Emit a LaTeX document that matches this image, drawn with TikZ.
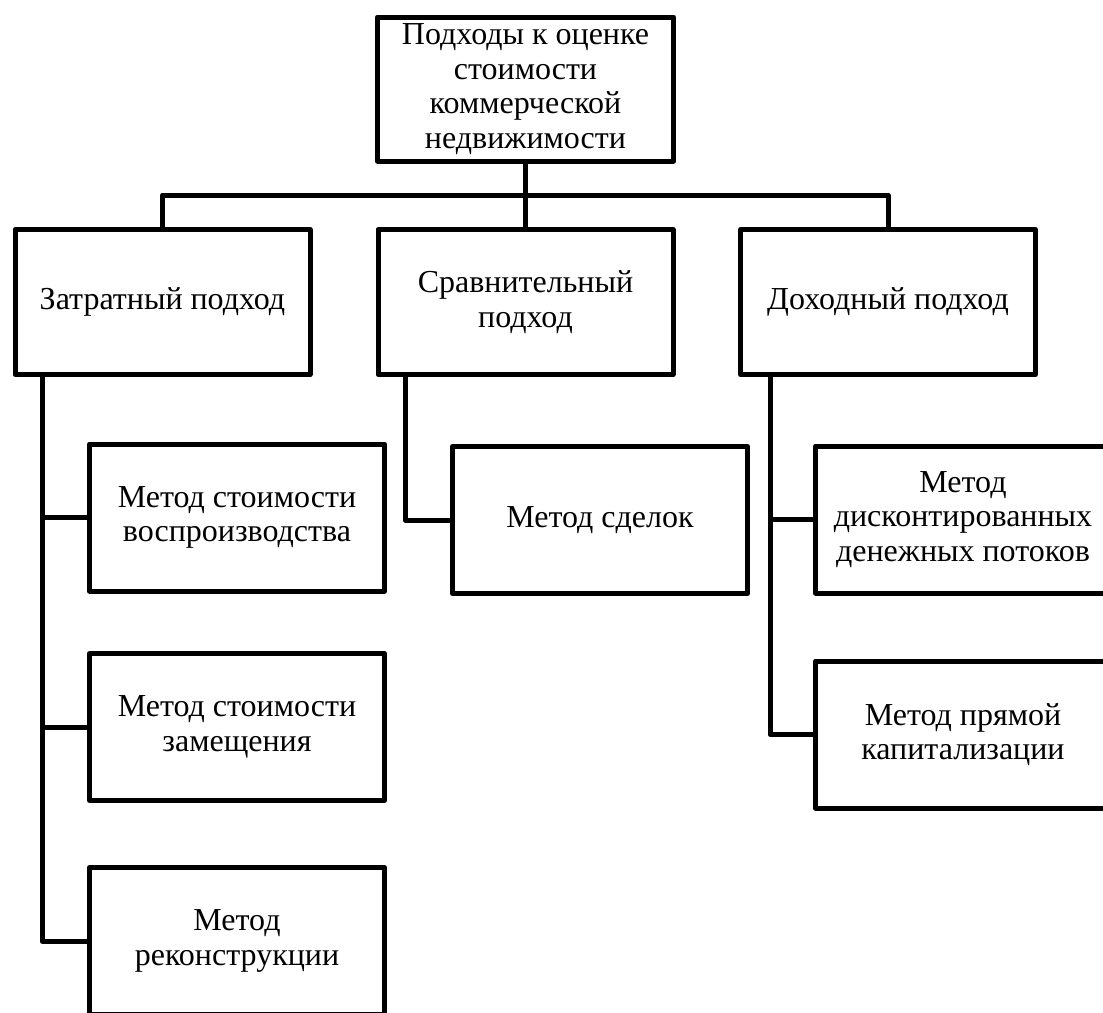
\documentclass[tikz,border=0pt]{standalone}
\usepackage{fontspec}
\setmainfont{Liberation Serif}
\usetikzlibrary{positioning}
\tikzset{
  abox/.style={rectangle, draw, line width=5pt, line join=round, minimum width=295pt, minimum height=145pt, align=center, inner sep=2pt, font=\fontsize{32}{34.5}\selectfont},
  mbox/.style={abox, minimum height=147pt},
  link/.style={line width=5pt, line join=round},
}
\begin{document}
\begin{tikzpicture}[x=1pt, y=-1pt]
  \useasboundingbox (0,0) rectangle (1103,1012);
  \clip (0,0) rectangle (1103,1012);

  % root and approaches
  \node[abox, minimum width=296pt, minimum height=144pt] (root) at (525.5,89) {Подходы к оценке\\стоимости\\коммерческой\\недвижимости};
  \node[abox] (zatr) at (162.5,302) {Затратный подход};
  \node[abox] (sravn) at (525.5,302) {Сравнительный\\подход};
  \node[abox] (dohod) at (888,302) {Доходный подход};

  % methods
  \node[mbox] (vosp) at (237,517.5) {Метод стоимости\\воспроизводства};
  \node[mbox] (zamesh) at (237,727) {Метод стоимости\\замещения};
  \node[mbox] (rekon) at (237,941) {Метод\\реконструкции};
  \node[mbox] (sdelok) at (600,520) {Метод сделок};
  \node[mbox] (dcf) at (963,519.5) {Метод\\дисконтированных\\денежных потоков};
  \node[mbox] (kapit) at (963,734.5) {Метод прямой\\капитализации};

  % bus under the root
  \coordinate (bus) at (525.5,195);
  \draw[link] (root.south) -- (sravn.north);
  \draw[link] (zatr.north) |- (bus) -| (dohod.north);

  % trunks of the method lists
  \coordinate (tz) at (42,0);
  \coordinate (ts) at (405,0);
  \coordinate (td) at (770,0);
  \draw[link] (zatr.south -| tz) |- (rekon.west);
  \draw[link] (tz |- vosp.west) -- (vosp.west);
  \draw[link] (tz |- zamesh.west) -- (zamesh.west);
  \draw[link] (sravn.south -| ts) |- (sdelok.west);
  \draw[link] (dohod.south -| td) |- (kapit.west);
  \draw[link] (td |- dcf.west) -- (dcf.west);
\end{tikzpicture}
\end{document}
